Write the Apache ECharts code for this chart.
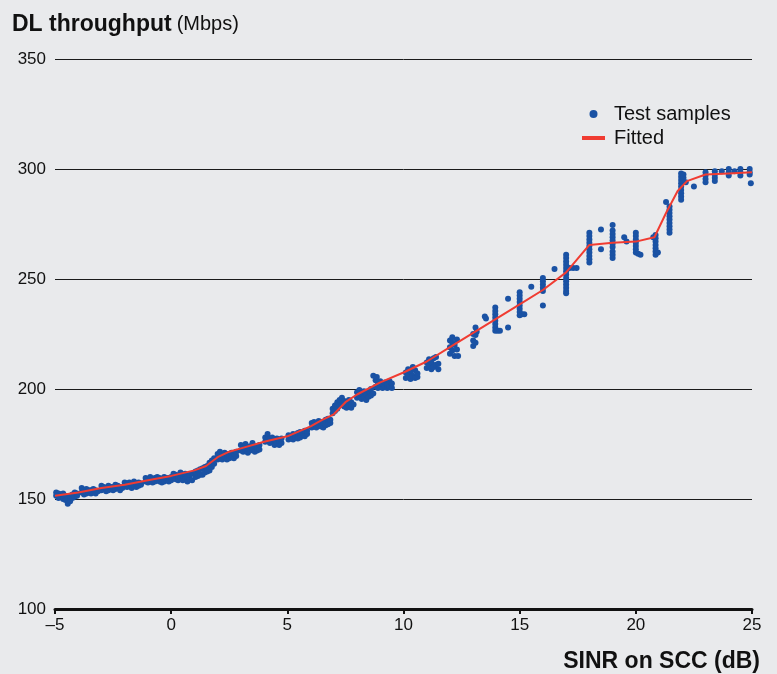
<!DOCTYPE html>
<html>
<head>
<meta charset="utf-8">
<script src="https://cdn.jsdelivr.net/npm/echarts@6/dist/echarts.min.js"></script>
<style>
html,body{margin:0;padding:0;background:#e9eaec;}
#chart{width:777px;height:674px;}
</style>
</head>
<body>
<div id="chart"></div>
<script>
// ---- Data ----
var xTicks = [-5, 0, 5, 10, 15, 20, 25];
var yTicks = [100, 150, 200, 250, 300, 350];

// Test samples: [SINR dB, throughput Mbps]
var samplesLow = [
  [-4.95,151.5],[-4.95,153],[-4.85,150.5],[-4.85,152.5],[-4.75,151],[-4.75,152],[-4.65,150],[-4.65,152.5],
  [-4.55,149.5],[-4.55,151.5],[-4.45,147.8],[-4.45,150],[-4.35,149],[-4.35,151.5],[-4.25,150.5],[-4.25,152],
  [-4.15,151],[-4.15,153],[-4.05,151.5],[-4.05,152.5],
  [-3.85,153],[-3.85,155],[-3.75,152],[-3.75,154],[-3.65,152.5],[-3.65,154.5],[-3.55,153],[-3.55,154],
  [-3.45,152.5],[-3.45,154],[-3.35,153],[-3.35,154.5],[-3.25,152.5],[-3.25,154],[-3.15,153.5],
  [-3.0,154],[-3.0,156],[-2.9,154.5],[-2.9,155.5],[-2.8,153.5],[-2.8,155],[-2.7,154],[-2.7,156],
  [-2.6,154.5],[-2.6,155.5],[-2.5,154],[-2.5,155.5],[-2.4,154.5],[-2.4,156.5],[-2.3,155],[-2.3,156],
  [-2.2,154],[-2.2,155.5],[-2.1,155],
  [-2.0,156],[-2.0,157.5],[-1.9,155.5],[-1.9,157],[-1.8,156],[-1.8,157.5],[-1.7,155],[-1.7,156.5],
  [-1.6,156],[-1.6,158],[-1.5,155.5],[-1.5,157],[-1.4,156],[-1.4,157.5],[-1.3,156.5],[-1.3,157]
];
var samplesMid = [
  [-1.1,158],[-1.1,159.5],[-1.0,157.5],[-1.0,159],[-0.9,158],[-0.9,160],[-0.8,157.5],[-0.8,159],
  [-0.7,158],[-0.7,159.5],[-0.6,158.5],[-0.6,160],[-0.5,158],[-0.5,159.5],[-0.4,157.5],[-0.4,159],
  [-0.3,158],[-0.3,160],[-0.2,158.5],[-0.2,159.5],[-0.1,158],[-0.1,159.5],[0.0,158.5],[0.0,160],
  [0.1,159.5],[0.1,161.5],[0.2,159],[0.2,161],[0.3,158.5],[0.3,160.5],[0.4,159.5],[0.4,162],
  [0.5,158.5],[0.5,160.5],[0.6,159],[0.6,161.5],[0.7,158],[0.7,160],[0.8,159],[0.8,161],[0.9,158.5],[0.9,161.5],
  [1.05,160],[1.05,162.5],[1.15,160.5],[1.15,163],[1.25,161],[1.25,163.5],[1.35,161],[1.35,164],
  [1.45,162],[1.45,164.5],[1.55,162.5],[1.55,165],[1.65,163],[1.65,166.5],[1.75,164.5],[1.75,167.5],
  [1.85,166],[1.85,168.5],
  [2.0,168],[2.0,170.5],[2.1,168.5],[2.1,171.5],[2.2,168],[2.2,170],[2.3,169],[2.3,171],
  [2.4,168],[2.4,170.5],[2.5,168.5],[2.5,170],[2.6,169],[2.6,171],[2.7,168.5],[2.7,170.5],[2.8,169.5],[2.8,171.5],
  [3.0,172],[3.0,174.5],[3.1,171.5],[3.1,173.5],[3.2,172.5],[3.2,175],[3.3,171],[3.3,173],
  [3.4,172],[3.4,174],[3.5,173],[3.5,175.5],[3.6,171.5],[3.6,174],[3.7,172],[3.7,173.5],[3.8,172.5],[3.8,174.5],
  [4.05,176],[4.05,178],[4.15,177],[4.15,179.5],[4.25,175.5],[4.25,177.5],[4.35,176],[4.35,178],
  [4.45,174.5],[4.45,177],[4.55,175.5],[4.55,177.5],[4.65,174.5],[4.65,176.5],[4.75,175.5],[4.75,177.5],
  [5.05,177],[5.05,179],[5.15,177.5],[5.15,178.5],[5.25,177],[5.25,179.5],[5.35,178],[5.35,179],
  [5.45,177.5],[5.45,180],[5.55,178],[5.55,180.5],[5.65,179],[5.65,180],[5.75,178.5],[5.75,181],[5.85,179.5],[5.85,181],
  [6.05,182.5],[6.05,184.5],[6.15,183],[6.15,185],[6.25,182.5],[6.25,184],[6.35,183.5],[6.35,185.5],
  [6.45,183],[6.45,185],[6.55,182.5],[6.55,184.5],[6.65,183.5],[6.65,186],[6.75,184],[6.75,186.5],[6.85,184.5],[6.85,186],
  [6.95,189],[6.95,191],[7.05,190],[7.05,192.5],[7.15,191],[7.15,194],[7.25,192.5],[7.25,195],
  [7.35,193],[7.35,196],[7.45,192],[7.45,194.5],[7.55,191.5],[7.55,194],[7.65,192],[7.65,195],
  [7.75,191.5],[7.75,194],[7.85,193],
  [8.0,196],[8.0,198.5],[8.1,197],[8.1,199.5],[8.2,195.5],[8.2,198],[8.3,196],[8.3,199],
  [8.4,195],[8.4,197.5],[8.5,196.5],[8.5,199],[8.6,197],[8.6,200],[8.7,198],[8.7,206],
  [8.8,201],[8.8,204],[8.9,200.5],[8.9,203],[9.0,201.5],[9.0,203.5],[9.1,200.5],[9.1,202.5],
  [9.2,201],[9.2,203],[9.3,200.5],[9.3,202],[9.4,201],[9.4,203.5],[9.5,200.5],[9.5,202.5],[8.85,205.5],
  [10.1,205],[10.1,207.5],[10.2,206],[10.2,209],[10.3,204.5],[10.3,208],[10.4,206],[10.4,210],
  [10.5,205],[10.5,208.5],[10.6,205.5],[10.6,207],
  [11.0,209.5],[11.0,212],[11.1,210.5],[11.1,213.5],[11.2,209],[11.2,212],[11.3,210],[11.3,214],
  [11.4,211],[11.4,214.5],[11.5,209],[11.5,211.5],
  [12.0,216],[12.0,219],[12.0,222],[12.1,217.5],[12.1,221],[12.1,223.5],[12.2,215],[12.2,220],
  [12.3,218],[12.3,222.5],[12.35,215],
  [13.0,219.5],[13.0,222],[13.0,225],[13.1,221],[13.1,224.5],[13.1,228],[13.15,226]
];
var samplesHigh = [
  [13.5,233],[13.55,232],
  [13.95,237],[13.95,235.5],[13.95,234],[13.95,232.5],[13.95,231],[13.95,229.5],[13.95,228],[13.95,226.5],
  [14.05,226.5],[14.15,226.5],
  [14.5,241],[14.5,228],
  [15.0,244],[15.0,242.5],[15.0,241],[15.0,239.5],[15.0,238],[15.0,236.5],[15.0,235],[15.0,233.5],
  [15.1,234],[15.2,234],
  [15.5,246.5],[16.0,250.5],[16.0,249],[16.0,247.5],[16.0,246],[16.0,244.5],[16.0,238],[16.5,254.5],
  [17.0,261],[17.0,259.5],[17.0,258],[17.0,256.5],[17.0,255],[17.0,253.5],[17.0,252],[17.0,250.5],
  [17.0,249],[17.0,247.5],[17.0,246],[17.0,244.5],[17.0,243.5],[17.15,255],[17.3,255],[17.45,255],
  [18.0,271],[18.0,269.5],[18.0,268],[18.0,266.5],[18.0,265],[18.0,263.5],[18.0,262],[18.0,260.5],
  [18.0,259],[18.0,257.5],[18.5,272.5],[18.5,263.5],
  [19.0,274.5],[19.0,272],[19.0,270.5],[19.0,269],[19.0,267.5],[19.0,266],[19.0,264.5],[19.0,262.5],
  [19.0,261],[19.0,259.5],
  [19.5,269],[19.6,267],
  [20.0,271],[20.0,269.5],[20.0,268],[20.0,266.5],[20.0,265],[20.0,263.5],[20.0,262],[20.1,261.5],[20.2,261],
  [20.85,270],[20.85,268.5],[20.85,267],[20.85,265.5],[20.85,264],[20.85,262.5],[20.85,261],[20.75,269],[20.95,262],
  [21.3,285],[21.45,283],[21.45,281.5],[21.45,280],[21.45,278.5],[21.45,277],[21.45,275.5],[21.45,274],
  [21.45,272.5],[21.45,271],
  [21.95,298],[21.95,296.5],[21.95,295],[21.95,293.5],[21.95,292],[21.95,290.5],[21.95,289],[21.95,287.5],
  [21.95,286],[22.05,297.5],[22.05,296],[22.15,294],
  [22.5,292],[23.0,298.5],[23.0,297],[23.0,295.5],[23.0,294],[23.4,299],[23.4,297.5],[23.4,296],[23.4,294.5],
  [23.7,299],[24.0,300],[24.0,298.5],[24.0,297],[24.25,299],[24.5,300],[24.5,298.5],[24.5,297],
  [24.9,300],[24.9,298.5],[24.9,297.5],[24.95,293.5]
];

var fitX = [-5,-4,-3,-2,-1,0,1,1.5,2,2.5,3,4,5,6,6.5,7,7.5,8,9,10,11,12,13,14,15,16,17,18,19,20,20.8,21.3,21.8,22.2,23,24,25];
var fitY = [151.5,153,155,156.5,158.5,160.5,163,165,169,171.5,173,176,178.5,183,186,188.5,194,197.5,203,207.5,212.5,219,225.5,232,238.5,245,253,265.5,266.5,267,269,280,290,294.5,297.5,298,298.5];

var samples = samplesLow.concat(samplesMid, samplesHigh);
var fitted = fitX.map(function(x, i){ return [x, fitY[i]]; });

var FONT = '"Liberation Sans", Arial, Helvetica, sans-serif';
var chart = echarts.init(document.getElementById('chart'), null, {renderer:'canvas'});
chart.setOption({
  backgroundColor: '#e9eaec',
  animation: false,
  textStyle: {fontFamily: FONT},
  title: {
    left: 7, top: 8,
    text: '{b|DL throughput} {n|(Mbps)}',
    textStyle: {
      rich: {
        b: {fontFamily: FONT, fontWeight: 'bold', fontSize: 23, color: '#111'},
        n: {fontFamily: FONT, fontWeight: 'normal', fontSize: 20, color: '#111'}
      }
    }
  },
  legend: {
    orient: 'vertical',
    left: 577, top: 99,
    itemWidth: 23, itemHeight: 8, itemGap: 4,
    symbolKeepAspect: true,
    data: [
      {name: 'Test samples', icon: 'circle'},
      {name: 'Fitted', icon: 'path://M0,0h23v4h-23z'}
    ],
    textStyle: {fontFamily: FONT, fontSize: 20, color: '#111', padding: [0,0,0,4]}
  },
  grid: {left: 55, right: 25, top: 59, bottom: 65, containLabel: false},
  xAxis: {
    type: 'value', min: -5, max: 25, interval: 5,
    name: 'SINR on SCC (dB)', nameLocation: 'end', nameGap: 8,
    nameTextStyle: {fontFamily: FONT, fontSize: 23, fontWeight: 'bold', color: '#111', align: 'right', verticalAlign: 'top', padding: [41,0,0,0]},
    axisLine: {show: true, onZero: false, lineStyle: {color: '#111', width: 3}},
    axisTick: {show: true, length: 5, lineStyle: {color: '#111', width: 2}},
    axisLabel: {fontFamily: FONT, fontSize: 17, color: '#111', margin: 8,
      formatter: function(v){ return String(v).replace('-', '\u2013'); },
      customValues: xTicks},
    splitLine: {show: false}
  },
  yAxis: {
    type: 'value', min: 100, max: 350, interval: 50,
    axisLine: {show: false},
    axisTick: {show: false},
    axisLabel: {fontFamily: FONT, fontSize: 17, color: '#111', margin: 9},
    splitLine: {show: true, lineStyle: {color: '#1a1a1a', width: 1}}
  },
  series: [{
    name: 'Test samples', type: 'scatter',
    data: samples, symbol: 'circle', symbolSize: 6,
    itemStyle: {color: '#1a52a4', opacity: 1}, z: 3
  }, {
    name: 'Fitted', type: 'line',
    data: fitted, showSymbol: false, symbol: 'none', smooth: false,
    lineStyle: {color: '#f03c32', width: 2},
    itemStyle: {color: '#f03c32'}, z: 4
  }]
});
</script>
</body>
</html>
